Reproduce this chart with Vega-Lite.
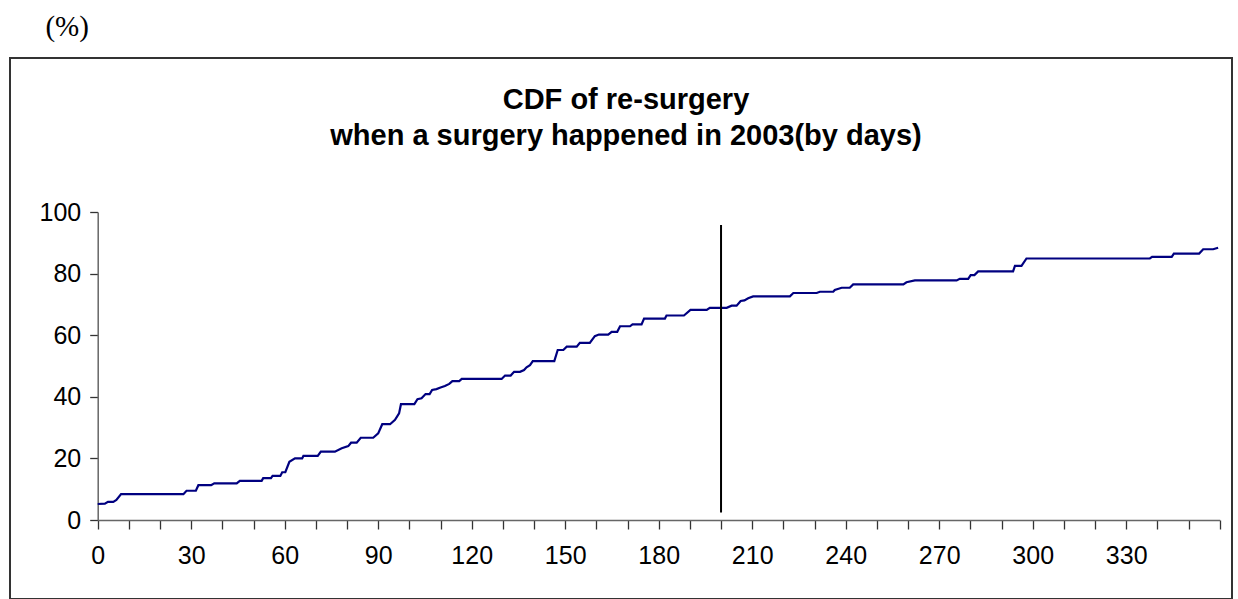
{
  "$schema": "https://vega.github.io/schema/vega-lite/v6.json",
  "autosize": "none",
  "width": 1222,
  "height": 541,
  "padding": {"left": 10, "top": 58, "right": 6, "bottom": 0},
  "background": "white",
  "title": {
    "text": ["CDF of re-surgery", "when a surgery happened in 2003(by days)"],
    "font": "Liberation Sans",
    "fontSize": 29,
    "fontWeight": "bold",
    "color": "black",
    "anchor": "middle",
    "frame": "group",
    "baseline": "alphabetic",
    "lineHeight": 36,
    "offset": 0,
    "dx": 5,
    "dy": 162
  },
  "datasets": {
    "cdf": [
      {"day": 0, "pct": 5.2}, {"day": 2.3, "pct": 5.3}, {"day": 3.3, "pct": 5.9}, {"day": 5, "pct": 5.9},
      {"day": 6, "pct": 6.5}, {"day": 7.5, "pct": 8.4}, {"day": 27.5, "pct": 8.4}, {"day": 28.5, "pct": 9.5},
      {"day": 31.5, "pct": 9.5}, {"day": 32.3, "pct": 11.3}, {"day": 36.4, "pct": 11.3}, {"day": 37.4, "pct": 11.9},
      {"day": 44.6, "pct": 11.9}, {"day": 45.6, "pct": 12.7}, {"day": 52.6, "pct": 12.7}, {"day": 53.1, "pct": 13.6},
      {"day": 55.6, "pct": 13.6}, {"day": 56.1, "pct": 14.3}, {"day": 58.6, "pct": 14.3}, {"day": 59.2, "pct": 15.5},
      {"day": 60.2, "pct": 15.5}, {"day": 61.5, "pct": 18.9}, {"day": 63.3, "pct": 20.0}, {"day": 65.6, "pct": 20.0},
      {"day": 66, "pct": 20.8}, {"day": 70.6, "pct": 20.8}, {"day": 71.6, "pct": 22.2}, {"day": 76.1, "pct": 22.2},
      {"day": 78.3, "pct": 23.3}, {"day": 80.4, "pct": 24.0}, {"day": 81.3, "pct": 25.1}, {"day": 83.1, "pct": 25.1},
      {"day": 84.4, "pct": 26.7}, {"day": 88.4, "pct": 26.7}, {"day": 90, "pct": 28.1}, {"day": 91.3, "pct": 31.1},
      {"day": 93.8, "pct": 31.1}, {"day": 95.4, "pct": 32.5}, {"day": 96.7, "pct": 34.6}, {"day": 97.3, "pct": 37.6},
      {"day": 101.6, "pct": 37.6}, {"day": 102.6, "pct": 39.2}, {"day": 103.9, "pct": 39.5}, {"day": 105.2, "pct": 40.9},
      {"day": 106.5, "pct": 40.9}, {"day": 107.3, "pct": 42.2}, {"day": 108.7, "pct": 42.5}, {"day": 110, "pct": 43.0},
      {"day": 111.4, "pct": 43.5}, {"day": 112.8, "pct": 44.2}, {"day": 113.8, "pct": 45.1}, {"day": 116, "pct": 45.1},
      {"day": 116.8, "pct": 45.8}, {"day": 129.6, "pct": 45.8}, {"day": 130.7, "pct": 46.9}, {"day": 132.5, "pct": 46.9},
      {"day": 133.6, "pct": 48.1}, {"day": 135.5, "pct": 48.1}, {"day": 136.8, "pct": 48.7}, {"day": 137.6, "pct": 49.6},
      {"day": 138.7, "pct": 50.3}, {"day": 139.6, "pct": 51.6}, {"day": 146.5, "pct": 51.6}, {"day": 147.6, "pct": 55.2},
      {"day": 149.4, "pct": 55.2}, {"day": 150.5, "pct": 56.3}, {"day": 153.7, "pct": 56.3}, {"day": 154.7, "pct": 57.5},
      {"day": 157.9, "pct": 57.5}, {"day": 159.5, "pct": 59.7}, {"day": 160.8, "pct": 60.2}, {"day": 163.8, "pct": 60.2},
      {"day": 164.9, "pct": 61.1}, {"day": 166.7, "pct": 61.1}, {"day": 167.6, "pct": 62.9}, {"day": 170.8, "pct": 62.9},
      {"day": 171.6, "pct": 63.5}, {"day": 174.5, "pct": 63.5}, {"day": 175.3, "pct": 65.4}, {"day": 182, "pct": 65.4},
      {"day": 182.5, "pct": 66.4}, {"day": 188.1, "pct": 66.4}, {"day": 190.2, "pct": 68.2}, {"day": 195.4, "pct": 68.2},
      {"day": 196.4, "pct": 68.9}, {"day": 201.8, "pct": 68.9}, {"day": 203.4, "pct": 69.6}, {"day": 205, "pct": 69.6},
      {"day": 206.3, "pct": 71.1}, {"day": 207.5, "pct": 71.3}, {"day": 208.7, "pct": 72.0}, {"day": 210.3, "pct": 72.6},
      {"day": 222.1, "pct": 72.6}, {"day": 223.2, "pct": 73.7}, {"day": 230.7, "pct": 73.7}, {"day": 231.7, "pct": 74.1},
      {"day": 236, "pct": 74.1}, {"day": 236.5, "pct": 74.7}, {"day": 238.7, "pct": 75.4}, {"day": 241.3, "pct": 75.4},
      {"day": 242.4, "pct": 76.5}, {"day": 258.5, "pct": 76.5}, {"day": 259.5, "pct": 77.2}, {"day": 262.2, "pct": 77.8},
      {"day": 275.6, "pct": 77.8}, {"day": 276.6, "pct": 78.3}, {"day": 279.3, "pct": 78.3}, {"day": 280.1, "pct": 79.5},
      {"day": 281.3, "pct": 79.5}, {"day": 282.5, "pct": 80.7}, {"day": 293.7, "pct": 80.7}, {"day": 294.3, "pct": 82.5},
      {"day": 296.4, "pct": 82.5}, {"day": 298, "pct": 84.9}, {"day": 337.6, "pct": 84.9}, {"day": 338.3, "pct": 85.4},
      {"day": 344.6, "pct": 85.4}, {"day": 345.3, "pct": 86.5}, {"day": 353.4, "pct": 86.5}, {"day": 354.7, "pct": 87.9},
      {"day": 357.9, "pct": 87.9}, {"day": 359.5, "pct": 88.4}
    ],
    "marker": [
      {"day": 200, "lo": 2.4, "hi": 95.8}
    ]
  },
  "layer": [
    {
      "data": {"name": "cdf"},
      "mark": {"type": "line", "color": "#000080", "strokeWidth": 2.2, "interpolate": "linear"},
      "encoding": {
        "x": {
          "field": "day", "type": "quantitative",
          "scale": {"domain": [0, 360], "range": [87.7, 1209.7], "nice": false, "zero": false},
          "axis": {
            "orient": "bottom",
            "offset": -79,
            "values": [0,10,20,30,40,50,60,70,80,90,100,110,120,130,140,150,160,170,180,190,200,210,220,230,240,250,260,270,280,290,300,310,320,330,340,350,360],
            "tickCount": 100,
            "labelExpr": "(datum.value % 30 == 0 && datum.value < 360) ? datum.label : ''",
            "title": null,
            "grid": false,
            "tickSize": 9,
            "labelPadding": 14,
            "labelFlush": false,
            "labelOverlap": false
          }
        },
        "y": {
          "field": "pct", "type": "quantitative",
          "scale": {"domain": [0, 100], "range": [462, 154], "nice": false, "zero": false},
          "axis": {
            "orient": "left",
            "offset": -87.7,
            "values": [0, 20, 40, 60, 80, 100],
            "tickCount": 20,
            "title": "(%)",
            "titleAngle": 0,
            "titleX": -31,
            "titleY": -23,
            "titleAlign": "center",
            "titleBaseline": "alphabetic",
            "titleFont": "Liberation Serif",
            "titleFontSize": 29,
            "titleFontWeight": "normal",
            "titleColor": "black",
            "grid": false,
            "tickSize": 8,
            "labelPadding": 9,
            "labelFlush": false,
            "labelOverlap": false
          }
        }
      }
    },
    {
      "data": {"name": "marker"},
      "mark": {"type": "rule", "color": "black", "strokeWidth": 2},
      "encoding": {
        "x": {"field": "day", "type": "quantitative"},
        "y": {"field": "lo", "type": "quantitative"},
        "y2": {"field": "hi"}
      }
    }
  ],
  "config": {
    "view": {"stroke": "#333333", "strokeWidth": 2},
    "axis": {
      "labelFont": "Liberation Sans",
      "labelFontSize": 25,
      "labelColor": "black",
      "domainColor": "#666666",
      "domainWidth": 1.5,
      "tickColor": "#333333",
      "tickWidth": 1.3
    }
  }
}
